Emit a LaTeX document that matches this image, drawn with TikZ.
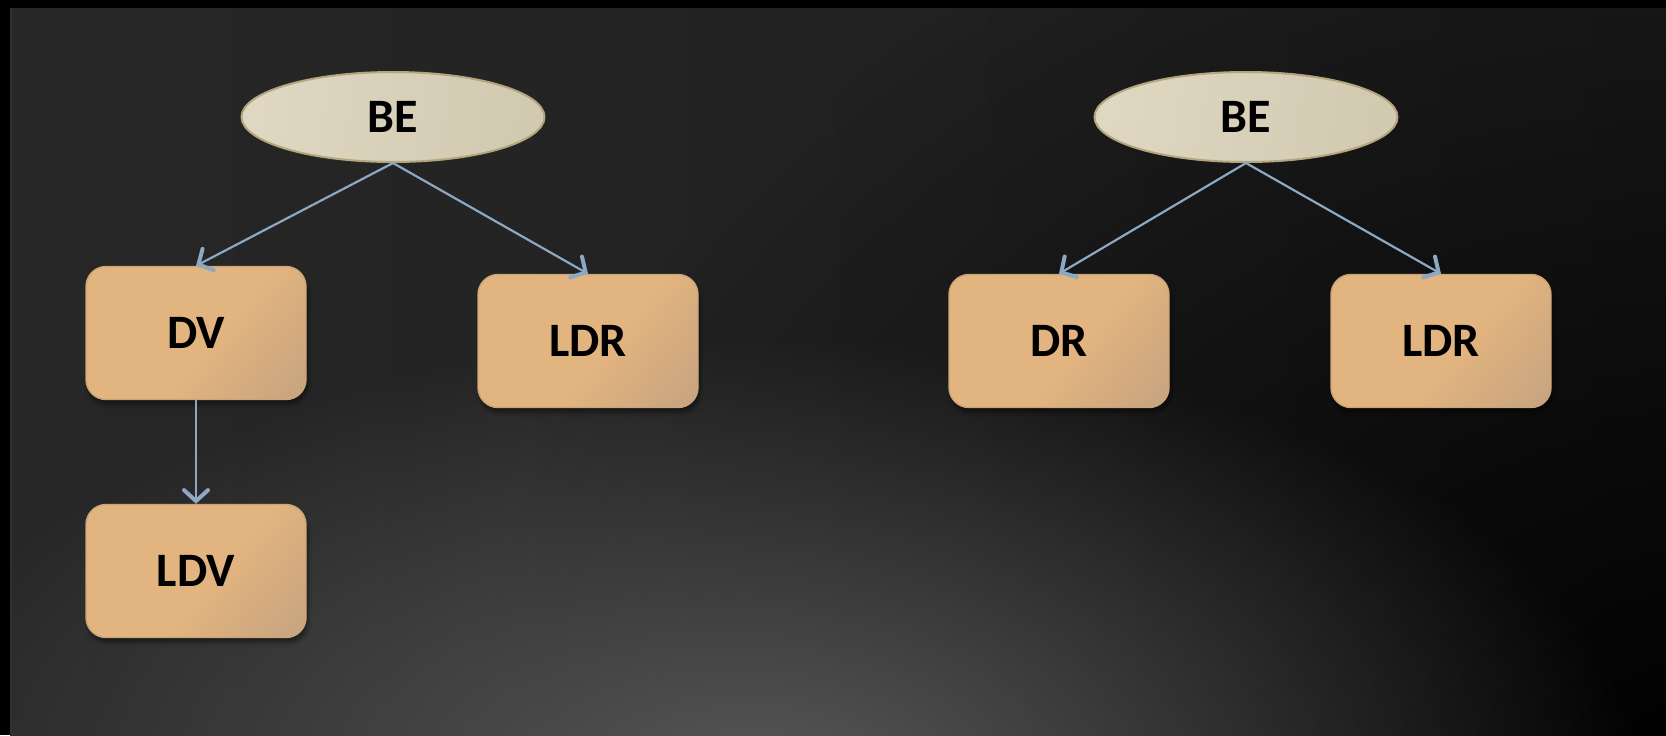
\documentclass[tikz,border=0pt]{standalone}
\usepackage{fontspec}
\setmainfont{Carlito}
\usetikzlibrary{shapes,arrows.meta,shadows.blur,fadings}
\definecolor{bgleft}{HTML}{272727}
\definecolor{bgright}{HTML}{1C1C1C}
\definecolor{bgedge}{HTML}{303030}
\definecolor{glow}{HTML}{575757}
\definecolor{ovalA}{HTML}{DFD7C1}
\definecolor{ovalB}{HTML}{D2C9B1}
\definecolor{ovalline}{HTML}{B3A57C}
\definecolor{tileA}{HTML}{E2B47F}
\definecolor{tileB}{HTML}{BF9F80}
\definecolor{tileline}{HTML}{CCA577}
\definecolor{linkblue}{HTML}{8DA8C3}
\tikzfading[name=glowfade, inner color=transparent!0, outer color=transparent!100]
\pgfdeclarehorizontalshading{tileshade}{100bp}{color(0bp)=(tileA); color(55bp)=(tileA); color(92bp)=(tileB); color(100bp)=(tileB)}
\tikzstyle{oval} = [ellipse, draw=ovalline, line width=1pt, inner sep=0pt,
  minimum width=151.5pt, minimum height=45pt,
  left color=ovalA, right color=ovalB, shading angle=80,
  font=\fontsize{24}{28}\selectfont\bfseries]
\tikzstyle{tile} = [rectangle, rounded corners=10pt, draw=tileline, line width=0.7pt,
  minimum width=110pt, minimum height=66.5pt,
  blur shadow={shadow xshift=1pt, shadow yshift=-2.5pt, shadow opacity=45, shadow blur steps=6},
  shading=tileshade, shading angle=-40,
  font=\fontsize{24}{28}\selectfont\bfseries]
\tikzstyle{link} = [draw=linkblue, line width=1.1pt, -{Straight Barb[length=5.5pt,width=12pt,line width=2pt,line cap=round]}]

\begin{document}
\begin{tikzpicture}[x=0.5pt, y=-0.5pt]
\useasboundingbox (0,0) rectangle (1666,735);
% slide background
\fill[black] (0,0) rectangle (1666,735);
\begin{scope}
\clip (10,8) rectangle (1666,735);
\shade[left color=bgleft, right color=bgright] (10,8) rectangle (1666,735);
\fill[black, path fading=glowfade] (1720,800) ellipse (1250 and 1000);
\fill[glow, path fading=glowfade] (760,775) ellipse (880 and 440);
\draw[bgedge, line width=1pt] (11,8) -- (11,735);
\end{scope}

% left tree
\node[oval] (beL) at (393,117) {BE};
\node[tile] (dv) at (196,333) {DV};
\node[tile] (ldrL) at (588,341) {LDR};
\node[tile] (ldv) at (196,571) {LDV};

% right tree
\node[oval] (beR) at (1246,117) {BE};
\node[tile] (dr) at (1059,341) {DR};
\node[tile] (ldrR) at (1441,341) {LDR};

\draw[link] (beL.south) -- (dv.north);
\draw[link] (beL.south) -- (ldrL.north);
\draw[link] (dv.south) -- (ldv.north);
\draw[link] (beR.south) -- (dr.north);
\draw[link] (beR.south) -- (ldrR.north);
\end{tikzpicture}
\end{document}
